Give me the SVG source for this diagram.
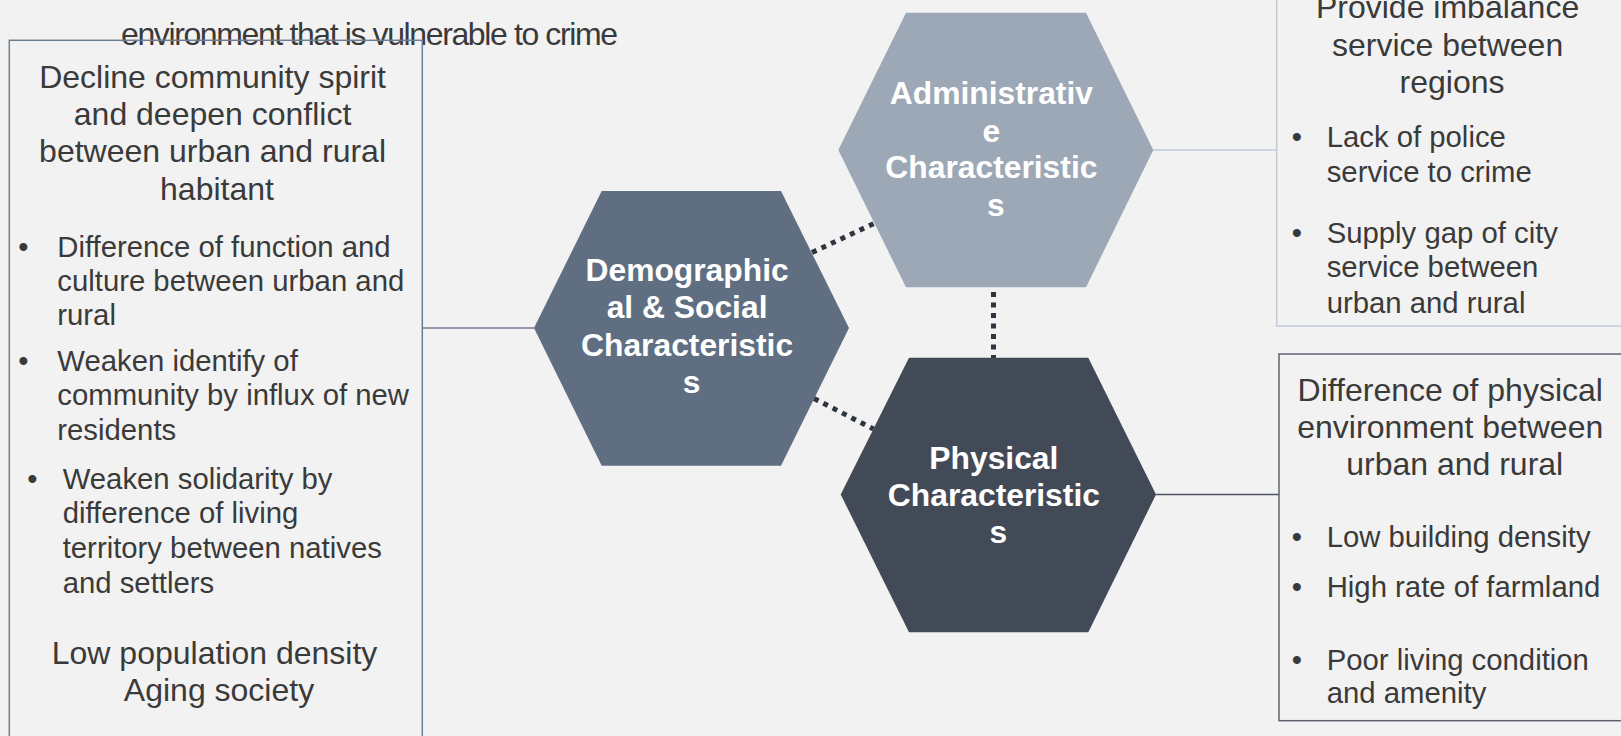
<svg xmlns="http://www.w3.org/2000/svg" width="1621" height="736" viewBox="0 0 1621 736">
<style>
  .bg{fill:#f2f2f2}
  .h{font-family:"Liberation Sans",Arial,Helvetica,sans-serif;font-size:32px;fill:#3a3a3a}
  .b{font-family:"Liberation Sans",Arial,Helvetica,sans-serif;font-size:29.3px;fill:#3a3a3a}
  .hx{font-family:"Liberation Sans",Arial,Helvetica,sans-serif;font-size:31.8px;font-weight:bold;fill:#ffffff;text-anchor:middle}
  .mid{text-anchor:middle}
  .dot{fill:none;stroke:#2f353e;stroke-width:5;stroke-dasharray:5 5.5}
</style>
<rect class="bg" x="0" y="0" width="1621" height="736"/>

<g id="connectors">
  <line x1="422.3" y1="328" x2="534" y2="328" stroke="#6f7d93" stroke-width="1.5"/>
  <line x1="1153.3" y1="150" x2="1277" y2="150" stroke="#c2cad6" stroke-width="1.5"/>
  <line x1="1156" y1="494.5" x2="1279" y2="494.5" stroke="#4e5562" stroke-width="1.5"/>
  <line class="dot" x1="812" y1="252.5" x2="874" y2="223.5"/>
  <line class="dot" x1="814" y1="398.5" x2="873.5" y2="429"/>
  <line class="dot" x1="993.5" y1="292" x2="993.5" y2="358"/>
</g>

<g id="context-text">
  <text class="h" x="121" y="45" font-size="32" textLength="497">environment that is vulnerable to crime</text>
</g>

<g id="box-demographic">
  <rect x="9.3" y="40.3" width="413" height="720" fill="none" stroke="#6f7d93" stroke-width="1.5"/>
  <text class="h mid" x="217">
    <tspan x="217" y="88.3">Decline community spirit</tspan>
    <tspan x="217" y="125">and deepen conflict</tspan>
    <tspan x="217" y="162.3">between urban and rural</tspan>
    <tspan x="217" y="200">habitant</tspan>
  </text>
  <text class="b">
    <tspan x="18.3" y="256.7">•</tspan>
    <tspan x="57.3" y="256.7">Difference of function and</tspan>
    <tspan x="57.3" y="290.7">culture between urban and</tspan>
    <tspan x="57.3" y="325">rural</tspan>
    <tspan x="18.3" y="371">•</tspan>
    <tspan x="57.3" y="371">Weaken identify of</tspan>
    <tspan x="57.3" y="405.3">community by influx of new</tspan>
    <tspan x="57.3" y="440">residents</tspan>
    <tspan x="27.3" y="488.7">•</tspan>
    <tspan x="62.7" y="488.7">Weaken solidarity by</tspan>
    <tspan x="62.7" y="522.7">difference of living</tspan>
    <tspan x="62.7" y="557.7">territory between natives</tspan>
    <tspan x="62.7" y="592.7">and settlers</tspan>
  </text>
  <text class="h mid">
    <tspan x="219" y="664.3">Low population density</tspan>
    <tspan x="219" y="701">Aging society</tspan>
  </text>
</g>

<g id="box-administrative">
  <rect x="1276.7" y="-10" width="360" height="336" fill="none" stroke="#c2cad6" stroke-width="1.5"/>
  <text class="h mid">
    <tspan x="1452" y="18.3">Provide imbalance</tspan>
    <tspan x="1452" y="56">service between</tspan>
    <tspan x="1452" y="92.7">regions</tspan>
  </text>
  <text class="b">
    <tspan x="1291.7" y="146.7">•</tspan>
    <tspan x="1326.7" y="146.7">Lack of police</tspan>
    <tspan x="1326.7" y="181.7">service to crime</tspan>
    <tspan x="1291.7" y="242.7">•</tspan>
    <tspan x="1326.7" y="242.7">Supply gap of city</tspan>
    <tspan x="1326.7" y="277.3">service between</tspan>
    <tspan x="1326.7" y="312.7">urban and rural</tspan>
  </text>
</g>

<g id="box-physical">
  <rect x="1279" y="354" width="360" height="366.7" fill="none" stroke="#5d6470" stroke-width="1.5"/>
  <text class="h mid">
    <tspan x="1454.7" y="401">Difference of physical</tspan>
    <tspan x="1454.7" y="437.7">environment between</tspan>
    <tspan x="1454.7" y="475">urban and rural</tspan>
  </text>
  <text class="b">
    <tspan x="1291.7" y="546.7">•</tspan>
    <tspan x="1326.7" y="546.7">Low building density</tspan>
    <tspan x="1291.7" y="597.3">•</tspan>
    <tspan x="1326.7" y="597.3">High rate of farmland</tspan>
    <tspan x="1291.7" y="670">•</tspan>
    <tspan x="1326.7" y="670">Poor living condition</tspan>
    <tspan x="1326.7" y="703.3">and amenity</tspan>
  </text>
</g>

<g id="hex-demographic">
  <polygon points="534,328 601.7,191 781,191 849,328 781,465.7 601.7,465.7" fill="#5f6e81"/>
  <text class="hx">
    <tspan x="691.5" y="281">Demographic</tspan>
    <tspan x="691.5" y="318.3">al &amp; Social</tspan>
    <tspan x="691.5" y="355.7">Characteristic</tspan>
    <tspan x="691.5" y="393.3">s</tspan>
  </text>
</g>

<g id="hex-administrative">
  <polygon points="838.3,150 906,12.7 1086,12.7 1153.3,150 1086,287.3 906,287.3" fill="#9da8b6"/>
  <text class="hx">
    <tspan x="995.8" y="104.3">Administrativ</tspan>
    <tspan x="995.8" y="141.7">e</tspan>
    <tspan x="995.8" y="178.3">Characteristic</tspan>
    <tspan x="995.8" y="216">s</tspan>
  </text>
</g>

<g id="hex-physical">
  <polygon points="840.7,494.5 909,357.7 1088.3,357.7 1156,494.5 1088.3,632.3 909,632.3" fill="#434a57"/>
  <text class="hx">
    <tspan x="998.3" y="469.3">Physical</tspan>
    <tspan x="998.3" y="506">Characteristic</tspan>
    <tspan x="998.3" y="543.3">s</tspan>
  </text>
</g>
</svg>
